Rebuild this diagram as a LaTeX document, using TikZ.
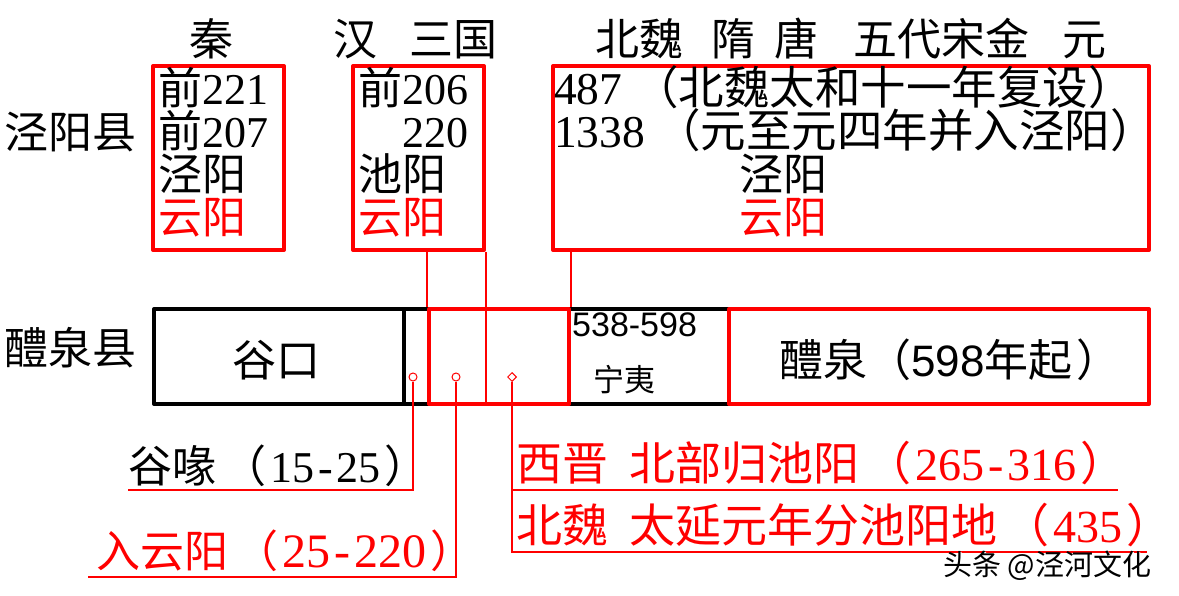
\documentclass[tikz,border=0pt]{standalone}
\usepackage{fontspec}
\setmainfont{Liberation Serif}
\newfontfamily\cjk{Noto Sans CJK SC}
\newfontfamily\sansdig{Liberation Sans}
\usetikzlibrary{shapes.geometric}
\definecolor{pred}{RGB}{255,0,0}
\newcommand\lpar{\kern6pt{\cjk （}\kern4pt}
\newcommand\rpar{\kern4pt{\cjk ）}}
\newcommand\hy{\kern4pt-\kern4pt}
\begin{document}
\begin{tikzpicture}[x=1pt,y=-1pt,
  rbox/.style={draw=pred, line width=4pt, line join=round, inner sep=0pt, anchor=north west},
  bbox/.style={draw=black, line width=4pt, line join=round, inner sep=0pt, anchor=north west},
  txt/.style={inner sep=0pt, anchor=base west, font=\fontsize{44}{44}\selectfont},
  rtxt/.style={txt, text=pred},
  bigtxt/.style={inner sep=0pt, anchor=base west, font=\fontsize{45.5}{45.5}\selectfont},
  rbigtxt/.style={inner sep=0pt, anchor=base west, text=pred, font=\fontsize{46}{46}\selectfont},
  thinr/.style={draw=pred, line width=1.2pt},
  mcirc/.style={circle, draw=pred, fill=white, line width=1pt, minimum size=8pt, inner sep=0pt},
  mdiam/.style={diamond, draw=pred, fill=white, line width=1pt, minimum size=9pt, inner sep=0pt}
]
\useasboundingbox (0,0) rectangle (1179,596);
\fill[white] (0,0) rectangle (1179,596);

% headings
\node[txt] (hqin) at (189,56) {\cjk 秦};
\node[txt] (hhan) at (333,56) {\cjk 汉};
\node[txt] (hsg) at (409,56) {\cjk 三国};
\node[txt] (hbw) at (595,56) {\cjk 北魏};
\node[txt] (hsui) at (711,56) {\cjk 隋};
\node[txt] (htang) at (774,56) {\cjk 唐};
\node[txt] (hwd) at (853,56) {\cjk 五代宋金};
\node[txt] (hyuan) at (1062,56) {\cjk 元};

% row labels
\node[txt] (ljy) at (4,149) {\cjk 泾阳县};
\node[txt] (llq) at (4,364) {\cjk 醴泉县};

% top boxes
\node[rbox, minimum width=131pt, minimum height=184pt] (b1) at (151,64) {};
\node[rbox, minimum width=131pt, minimum height=184pt] (b2) at (351,64) {};
\node[rbox, minimum width=596pt, minimum height=184pt] (b3) at (551,64) {};

\node[txt] (t11) at (158,105) {{\cjk 前}221};
\node[txt] (t12) at (158,148) {{\cjk 前}207};
\node[txt] (t13) at (158,191) {\cjk 泾阳};
\node[rtxt] (t14) at (158,234) {\cjk 云阳};

\node[txt] (t21) at (358,105) {{\cjk 前}206};
\node[txt] (t22) at (402,148) {220};
\node[txt] (t23) at (358,191) {\cjk 池阳};
\node[rtxt] (t24) at (358,234) {\cjk 云阳};

\node[bigtxt] (t31) at (554,105) {487\kern11pt{\cjk （北魏太和十一年复设）}};
\node[bigtxt] (t32) at (554,148) {1338\kern10pt{\cjk （元至元四年并入泾阳）}};
\node[txt] (t33) at (739,191) {\cjk 泾阳};
\node[rtxt] (t34) at (739,234) {\cjk 云阳};

% bottom row
\node[bbox, minimum width=250pt, minimum height=95pt] (gk) at (152,307) {};
\node[bbox, minimum width=25pt, minimum height=95pt] (sm) at (402,307) {};
\node[bbox, minimum width=160pt, minimum height=95pt] (ny) at (567,307) {};
\node[rbox, minimum width=140pt, minimum height=95pt] (cy) at (427,307) {};
\node[rbox, minimum width=420pt, minimum height=95pt] (lq) at (727,307) {};

\node[txt, anchor=base] (tgk) at (276,377) {\cjk 谷口};
\node[inner sep=0pt, anchor=base west, font=\fontsize{34}{34}\selectfont\sansdig] (tny1) at (572,337) {538-598};
\node[inner sep=0pt, anchor=base west, font=\fontsize{31}{31}\selectfont\cjk] (tny2) at (593,391) {宁夷};
\node[txt] (tlq) at (779,376) {{\cjk 醴泉（}{\sansdig 598}{\cjk 年起}\rpar};

% connectors from top boxes
\draw[thinr] (cy.north west |- b2.south) -- (cy.north west);
\draw[thinr] (b2.south east) -- (b2.south east |- cy.south);
\draw[thinr] (cy.north east |- b3.south) -- (cy.north east);

% markers
\node[mcirc] (m1) at (413,377) {};
\node[mcirc] (m2) at (456,377) {};
\node[mdiam] (m3) at (512,377) {};

\coordinate (u1) at (128,490);
\coordinate (u2) at (88,577);
\coordinate (u3) at (1118,490);
\coordinate (u4) at (1147,552);
\draw[thinr] (m1.south) |- (u1);
\draw[thinr] (m2.south) |- (u2);
\draw[thinr] (m3.south) |- (u4);
\draw[thinr] (m3.south |- u3) -- (u3);

% bottom labels
\node[txt] (lgy) at (128,482) {{\cjk 谷喙}\lpar 15\hy 25\rpar};
\node[rtxt] (lry) at (96,567) {{\cjk 入云阳}\lpar{\fontsize{48}{48}\selectfont 25\hy 220}\rpar};
\node[rbigtxt] (lxj) at (516,480) {{\cjk 西晋}\hspace{21pt}{\cjk 北部归池阳}\lpar 265\hy 316\rpar};
\node[rbigtxt] (lbw) at (516,542) {{\cjk 北魏}\hspace{21pt}{\cjk 太延元年分池阳地}\lpar 435\rpar};

% watermark
\node[inner sep=0pt, anchor=base west, font=\fontsize{29}{29}\selectfont\cjk, text=white] at (944,576) {头条 @泾河文化};
\node[inner sep=0pt, anchor=base west, font=\fontsize{29}{29}\selectfont\cjk, text=black] (wm) at (943,575) {头条 @泾河文化};
\end{tikzpicture}
\end{document}
